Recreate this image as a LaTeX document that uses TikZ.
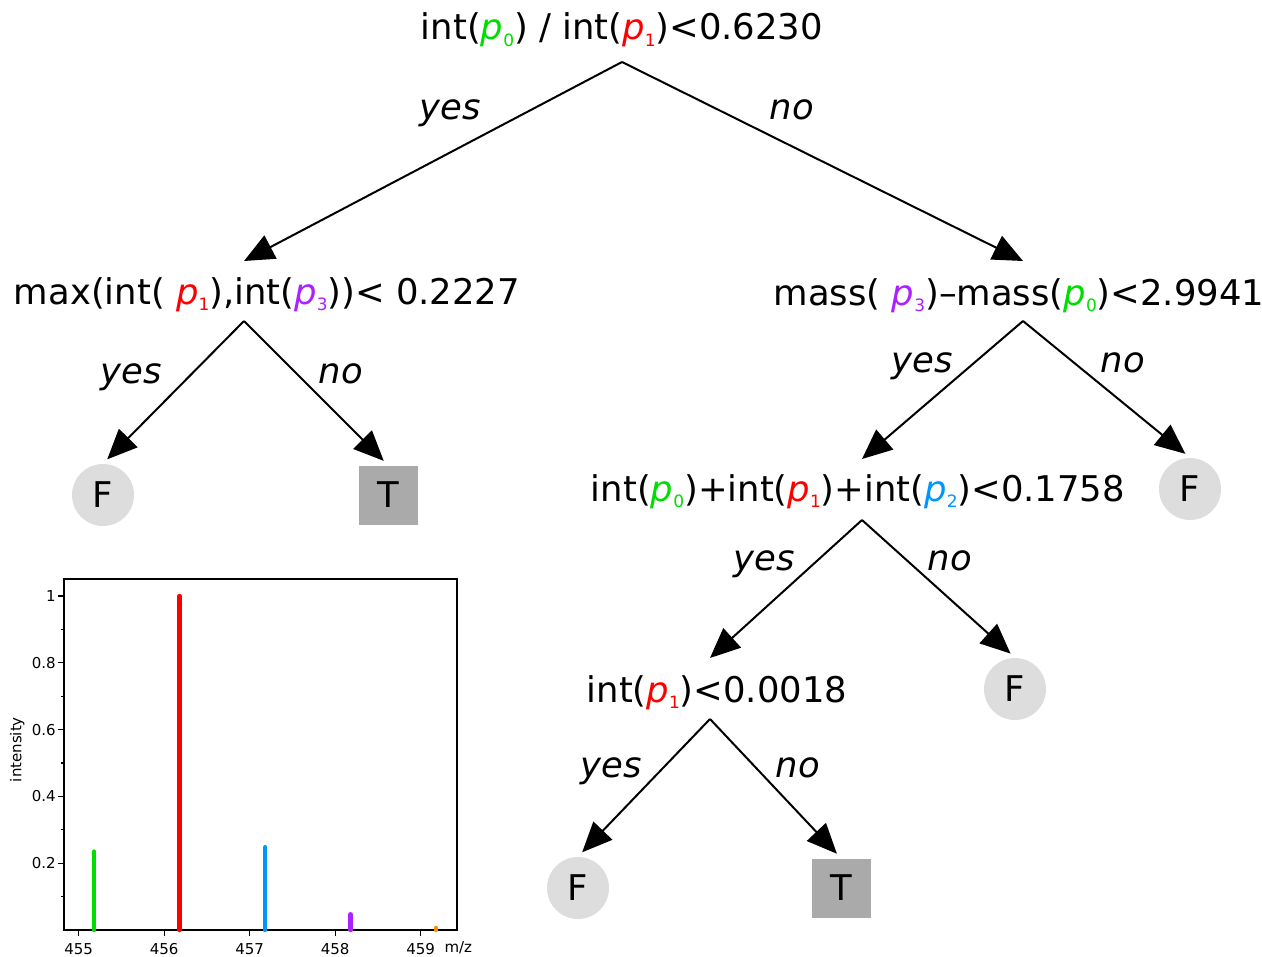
\documentclass[tikz,border=0pt]{standalone}
\usepackage{fontspec}
\setmainfont{DejaVu Sans}
\usetikzlibrary{arrows.meta}
\definecolor{pk_green}{RGB}{0,221,0}
\definecolor{pk_red}{RGB}{255,0,0}
\definecolor{pk_blue}{RGB}{0,150,255}
\definecolor{pk_purple}{RGB}{170,34,255}
\definecolor{pk_orange}{RGB}{255,136,0}
\definecolor{leaf_f}{RGB}{221,221,221}
\definecolor{leaf_t}{RGB}{170,170,170}
\newcommand{\bigfont}{\fontsize{17.7}{21}\selectfont}
\newcommand{\pk}[2]{{\color{#1}\textit{p}\raisebox{-3.3pt}{\fontsize{8.5}{9}\selectfont #2}}}
\tikzstyle{cond}=[inner sep=0pt,anchor=base,font=\bigfont]
\tikzstyle{ans}=[inner sep=0pt,anchor=base,font=\bigfont\itshape]
\tikzstyle{fn}=[circle,fill=leaf_f,minimum size=31pt,inner sep=0pt,font=\bigfont]
\tikzstyle{tn}=[rectangle,fill=leaf_t,minimum size=29.5pt,inner sep=0pt,font=\bigfont]
\tikzstyle{edge}=[line width=1pt,-{Triangle[length=15pt,width=13pt]}]
\tikzstyle{peak}=[line width=2.2pt,line cap=round]
\tikzstyle{tick}=[font=\fontsize{7.5}{9}\selectfont,inner sep=1pt]

\begin{document}
\begin{tikzpicture}[x=0.5pt,y=-0.5pt]
        \useasboundingbox (0,0) rectangle (1262,957);
        % decision nodes
        \node[style=cond] (0) at (622,40) {int(\pk{pk_green}{0}) / int(\pk{pk_red}{1})<0.6230};
        \node[style=cond] (1) at (267,304) {max(int( \pk{pk_red}{1}),int(\pk{pk_purple}{3}))< 0.2227};
        \node[style=cond] (2) at (1019,305) {mass( \pk{pk_purple}{3})–mass(\pk{pk_green}{0})<2.9941};
        \node[style=cond] (3) at (858,501) {int(\pk{pk_green}{0})+int(\pk{pk_red}{1})+int(\pk{pk_blue}{2})<0.1758};
        \node[style=cond] (4) at (717,702) {int(\pk{pk_red}{1})<0.0018};
        \coordinate (a0) at (622,62);
        \coordinate (a1) at (244,321);
        \coordinate (a2) at (1023,321);
        \coordinate (a3) at (862,520);
        \coordinate (a4) at (710,719);
        \coordinate (e1) at (244,261);
        \coordinate (e2) at (1023,261);
        \coordinate (e3) at (862,459);
        \coordinate (e4) at (710,658);
        % leaves
        \node[style=fn] (5) at (103,495) {F};
        \node[style=tn] (6) at (388,495) {T};
        \node[style=fn] (7) at (1190,489) {F};
        \node[style=fn] (8) at (1015,689) {F};
        \node[style=fn] (9) at (578,888) {F};
        \node[style=tn] (10) at (841,888) {T};
        % branches
        \draw[style=edge] (a0) to (e1);
        \draw[style=edge] (a0) to (e2);
        \draw[style=edge,shorten >=3pt] (a1) to (5.north);
        \draw[style=edge,shorten >=3pt] (a1) to (6.north);
        \draw[style=edge] (a2) to (e3);
        \draw[style=edge,shorten >=3pt] (a2) to (7.north);
        \draw[style=edge] (a3) to (e4);
        \draw[style=edge,shorten >=3pt] (a3) to (8.north);
        \draw[style=edge,shorten >=3pt] (a4) to (9.north);
        \draw[style=edge,shorten >=3pt] (a4) to (10.north);
        \node[style=ans] at (450,120) {yes};
        \node[style=ans] at (792,120) {no};
        \node[style=ans] at (131,383) {yes};
        \node[style=ans] at (341,383) {no};
        \node[style=ans] at (922,372) {yes};
        \node[style=ans] at (1123,372) {no};
        \node[style=ans] at (764,570) {yes};
        \node[style=ans] at (950,570) {no};
        \node[style=ans] at (611,777) {yes};
        \node[style=ans] at (798,777) {no};
        % spectrum
        \begin{scope}[shift={(78.7,930)},x=42.75pt,y=167pt]
            \draw[line width=0.75pt] (-0.172,0) rectangle (4.425,1.051);
            \foreach \m in {0,...,4} {
                \draw[line width=0.6pt] (\m,0) -- (\m,-0.018);
                \pgfmathtruncatemacro{\lab}{455+\m}
                \node[style=tick,anchor=base] at (\m,-0.073) {\lab};
            }
            \foreach \i/\lab in {0.2/0.2,0.4/0.4,0.6/0.6,0.8/0.8,1/1} {
                \draw[line width=0.6pt] (-0.172,\i) -- (-0.242,\i);
                \node[style=tick,anchor=east] at (-0.242,\i) {\lab};
            }
            \foreach \i in {0.1,0.3,0.5,0.7,0.9}
                \draw[line width=0.6pt] (-0.172,\i) -- (-0.207,\i);
            \node[style=tick,rotate=90] at (-0.72,0.54) {intensity};
            \node[style=tick,anchor=base] at (4.44,-0.068) {m/z};
            \draw[style=peak,pk_green] (0.18,0) -- (0.18,0.235);
            \draw[style=peak,pk_red] (1.18,0) -- (1.18,1.0);
            \draw[style=peak,pk_blue] (2.18,0) -- (2.18,0.248);
            \draw[style=peak,pk_purple] (3.18,0) -- (3.18,0.047);
            \draw[style=peak,pk_orange] (4.18,0) -- (4.18,0.006);
        \end{scope}
    \end{tikzpicture}
\end{document}
